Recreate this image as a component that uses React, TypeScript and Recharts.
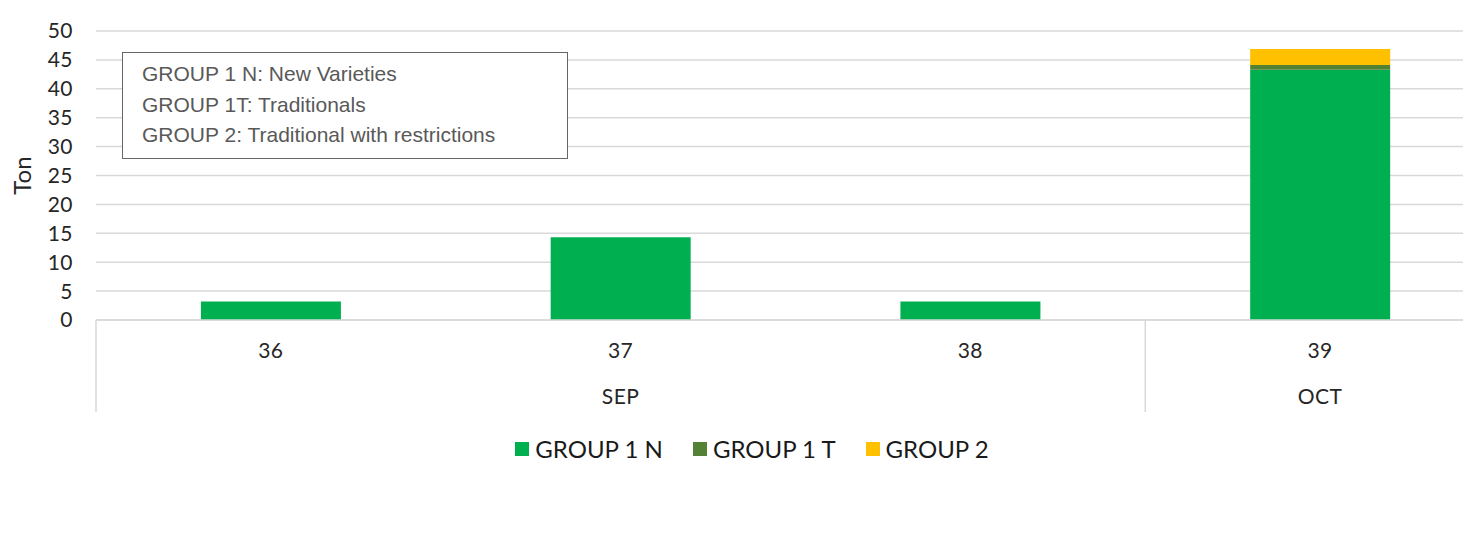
import { Bar, BarChart, CartesianGrid, Legend, XAxis, YAxis } from "recharts"

const weeks = ["36", "37", "38", "39"]
const months = ["SEP", "SEP", "SEP", "OCT"]
const group1N = [3.2, 14.3, 3.2, 43.3]
const group1T = [0, 0, 0, 0.8]
const group2 = [0, 0, 0, 2.8]
const yTicks = [0, 5, 10, 15, 20, 25, 30, 35, 40, 45, 50]

const series = [
  { key: "g1n", name: "GROUP 1 N", color: "#00B050" },
  { key: "g1t", name: "GROUP 1 T", color: "#548235" },
  { key: "g2", name: "GROUP 2", color: "#FFC000" },
]

const notes = [
  "GROUP 1 N: New Varieties",
  "GROUP 1T: Traditionals",
  "GROUP 2: Traditional with restrictions",
]

const data = weeks.map((w, i) => ({
  week: w,
  month: months[i],
  g1n: group1N[i],
  g1t: group1T[i],
  g2: group2[i],
}))

const FONT = "Lato, 'Open Sans', sans-serif"
const AXIS_GRAY = "#d9d9d9"
const TEXT = "#262626"

function WeekMonthTick(props: any) {
  const { x, y, index, payload } = props
  const half = payload.offset ?? 0
  const month = months[index]
  const isFirst = index === 0 || months[index - 1] !== month
  const isLast = index === months.length - 1
  let center = x
  if (isFirst) {
    let end = index
    while (end + 1 < months.length && months[end + 1] === month) end++
    const count = end - index + 1
    center = x - half + count * half
  }
  return (
    <g>
      <text x={x} y={y} dy={38} textAnchor="middle" fontSize={21} letterSpacing={0.5} fill={TEXT} fontFamily={FONT}>
        {payload.value}
      </text>
      {isFirst && (
        <>
          <line x1={x - half} x2={x - half} y1={y} y2={y + 92} stroke={AXIS_GRAY} strokeWidth={1.5} />
          <text x={center} y={y} dy={84} textAnchor="middle" fontSize={21} letterSpacing={0.5} fill={TEXT} fontFamily={FONT}>
            {month}
          </text>
        </>
      )}
      {isLast && <line x1={x + half} x2={x + half} y1={y} y2={y + 92} stroke={AXIS_GRAY} strokeWidth={1.5} />}
    </g>
  )
}

function LegendContent() {
  return (
    <div style={{ display: "flex", justifyContent: "center", gap: 30, fontFamily: FONT, fontSize: 24, color: "#1a1a1a" }}>
      {series.map((s) => (
        <div key={s.key} style={{ display: "flex", alignItems: "center", gap: 6 }}>
          <span style={{ width: 14, height: 14, background: s.color, display: "inline-block" }} />
          <span>{s.name}</span>
        </div>
      ))}
    </div>
  )
}

export default function App() {
  return (
    <div style={{ position: "relative", width: 1471, height: 537, margin: -8, overflow: "hidden", background: "#fff" }}>
      <BarChart
        width={1520}
        height={537}
        data={data}
        margin={{ top: 31, right: 25, left: 0, bottom: 117 }}
        barCategoryGap="30%"
      >
        <CartesianGrid vertical={false} stroke={AXIS_GRAY} strokeWidth={1.5} />
        <XAxis
          dataKey="week"
          height={100}
          tickLine={false}
          tickSize={0}
          tickMargin={0}
          axisLine={{ stroke: AXIS_GRAY, strokeWidth: 1.5 }}
          tick={<WeekMonthTick />}
          interval={0}
        />
        <YAxis
          width={96}
          domain={[0, 50]}
          ticks={yTicks}
          interval={0}
          axisLine={false}
          tickLine={false}
          tickSize={0}
          tickMargin={23}
          tick={{ fontSize: 21, fill: TEXT, fontFamily: FONT, letterSpacing: 0.5 }}
          label={{
            value: "Ton",
            angle: -90,
            position: "insideLeft",
            offset: 22,
            style: { textAnchor: "middle", fontSize: 24, fill: TEXT, fontFamily: FONT },
          }}
        />
        {series.map((s) => (
          <Bar key={s.key} dataKey={s.key} name={s.name} stackId="a" fill={s.color} isAnimationActive={false} />
        ))}
        <Legend
          verticalAlign="middle"
          align="center"
          layout="horizontal"
          content={<LegendContent />}
          wrapperStyle={{ top: 434, left: 0, width: 1504 }}
        />
      </BarChart>
      <div
        style={{
          position: "absolute",
          left: 122,
          top: 52,
          width: 446,
          height: 107,
          border: "1.5px solid #666",
          background: "#fff",
          fontFamily: "'Liberation Sans', Arial, sans-serif",
          fontSize: 21,
          color: "#595959",
          paddingLeft: 19,
          paddingTop: 6,
          boxSizing: "border-box",
          lineHeight: "30.5px",
        }}
      >
        {notes.map((n) => (
          <div key={n}>{n}</div>
        ))}
      </div>
    </div>
  )
}
